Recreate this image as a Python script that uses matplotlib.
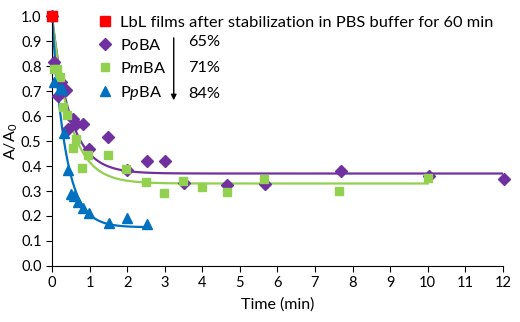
import numpy as np
import matplotlib
matplotlib.use('Agg')
from matplotlib import pyplot as plt
from matplotlib.lines import Line2D

plt.rcParams['font.family'] = ['Lato', 'DejaVu Sans']
plt.rcParams['mathtext.fontset'] = 'custom'
plt.rcParams['mathtext.rm'] = 'Lato'
plt.rcParams['mathtext.it'] = 'Lato:italic'

# Dados (tempo em min, A/A0)
t_oba = [0, 0.06, 0.15, 0.24, 0.36, 0.43, 0.55, 0.64, 0.83, 0.99, 1.5, 1.99,
         2.52, 3.0, 3.52, 4.67, 5.66, 7.68, 10.03, 12.02]
a_oba = [1.0, 0.815, 0.68, 0.737, 0.704, 0.55, 0.59, 0.57, 0.568, 0.47, 0.517,
         0.385, 0.42, 0.42, 0.333, 0.324, 0.33, 0.381, 0.361, 0.347]

t_mba = [0, 0.04, 0.14, 0.21, 0.3, 0.39, 0.57, 0.64, 0.79, 0.97, 1.48, 1.97,
         2.5, 2.98, 3.49, 3.98, 4.65, 5.64, 7.64, 10.01]
a_mba = [1.0, 0.79, 0.788, 0.755, 0.635, 0.604, 0.473, 0.507, 0.393, 0.444,
         0.444, 0.388, 0.337, 0.293, 0.34, 0.317, 0.295, 0.348, 0.30, 0.353]

t_pba = [0, 0.06, 0.21, 0.27, 0.33, 0.42, 0.51, 0.59, 0.68, 0.83, 0.99, 1.51,
         1.99, 2.52]
a_pba = [1.0, 0.737, 0.71, 0.707, 0.533, 0.385, 0.287, 0.28, 0.257, 0.231,
         0.213, 0.171, 0.191, 0.167]

# Ajustes exponenciais: patamar, taxa (1/min), tempo final da curva
patamar = [0.37, 0.33, 0.155]
taxa = [2.07, 2.05, 2.8]
t_fim = [12.0, 10.0, 2.52]

rotulos = ['P$\\it{o}$BA', 'P$\\it{m}$BA', 'P$\\it{p}$BA']
percentuais = ['65%', '71%', '84%']
cores = ['#7030A0', '#92D050', '#0070C0']
marcadores = ['D', 's', '^']
tamanhos = [6.2, 6, 6.5]

fig = plt.figure(figsize=(5.2, 3.22), dpi=100)
ax = fig.add_axes([0.1, 0.174, 0.867, 0.776])

series = [(t_oba, a_oba), (t_mba, a_mba), (t_pba, a_pba)]
for i, (t, a) in enumerate(series):
    tt = np.linspace(0, t_fim[i], 300)
    curva = patamar[i] + (1 - patamar[i]) * np.exp(-taxa[i] * tt)
    ax.plot(tt, curva, color=cores[i], lw=1.6, zorder=2)
    ax.plot(t, a, ls='none', marker=marcadores[i], ms=tamanhos[i],
            color=cores[i], mec=cores[i], zorder=3, clip_on=False)

ax.plot([0], [1.0], ls='none', marker='s', ms=7, color='#FF0000', zorder=4,
        clip_on=False)

ax.set_xlim(0, 12)
ax.set_ylim(0, 1.0)
ax.set_xticks(range(0, 13))
ax.set_yticks(np.arange(0, 1.01, 0.1))
ax.set_yticklabels([f'{v:.1f}' for v in np.arange(0, 1.01, 0.1)])
ax.spines['top'].set_visible(False)
ax.spines['right'].set_visible(False)
ax.tick_params(labelsize=10.5, length=4, direction='out', colors='black')
ax.set_xlabel('Time (min)', fontsize=11.5, labelpad=5)
ax.set_ylabel('A/A$_0$', fontsize=11.5, labelpad=1)

handles = [Line2D([], [], ls='none', marker='s', ms=7, color='#FF0000')]
for i in range(3):
    handles.append(Line2D([], [], ls='none', marker=marcadores[i],
                          ms=tamanhos[i], color=cores[i]))
labels = ['LbL films after stabilization in PBS buffer for 60 min'] + rotulos
ax.legend(handles, labels, loc='upper left', bbox_to_anchor=(0.074, 1.05),
          frameon=False, fontsize=11.8, labelspacing=0.5, handletextpad=0.4,
          handlelength=1.0, borderpad=0.2)

ax.annotate('', xy=(0.27, 0.652), xytext=(0.27, 0.924),
            xycoords='axes fraction',
            arrowprops=dict(arrowstyle='-|>', color='black', lw=1.0,
                            mutation_scale=8))
for j, p in enumerate(percentuais):
    ax.text(0.303, 0.896 - j * 0.104, p, transform=ax.transAxes,
            fontsize=11.8, va='center', ha='left')

fig.savefig('out.png', dpi=100)
